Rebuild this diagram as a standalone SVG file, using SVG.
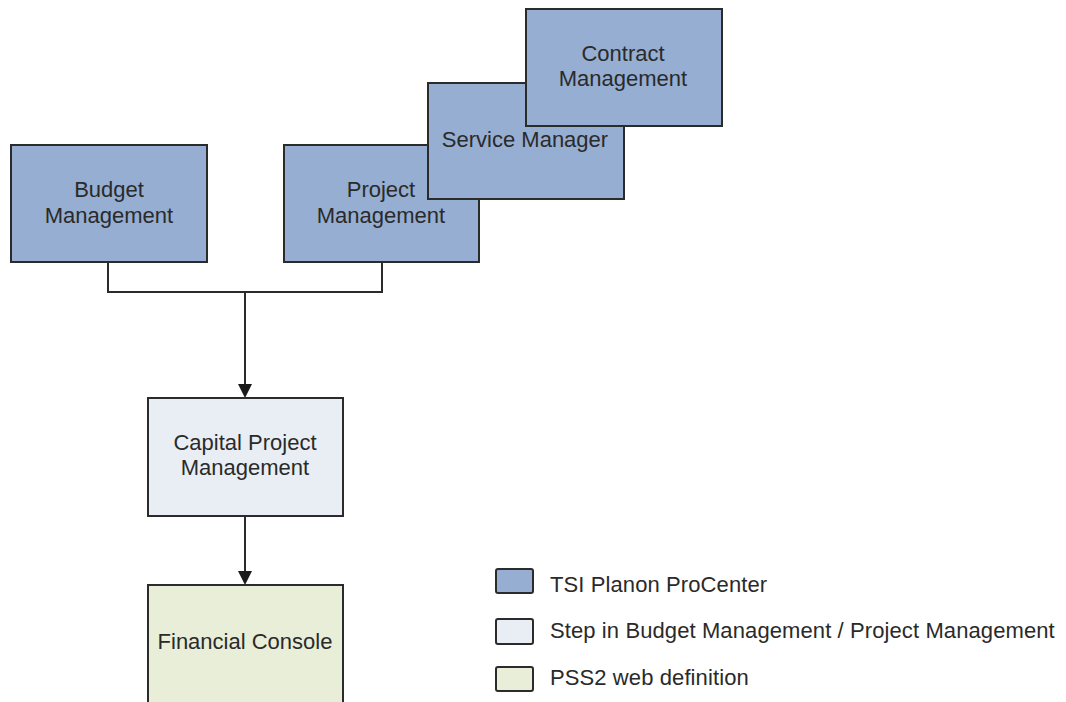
<svg xmlns="http://www.w3.org/2000/svg" width="1066" height="702" viewBox="0 0 1066 702">
  <defs>
    <marker id="arrow" markerWidth="14" markerHeight="14" refX="12" refY="7" orient="auto" markerUnits="userSpaceOnUse">
      <path d="M0,0 L14,7 L0,14 Z" fill="#1a1a1a"/>
    </marker>
  </defs>
  <style>
    .box { stroke: #2b2b2b; stroke-width: 2; }
    .tsi { fill: #95aed2; }
    .step { fill: #e9eef5; }
    .web { fill: #e8eed8; }
    .lbl { font-family: "Liberation Sans", Arial, sans-serif; font-size: 22px; fill: #2a2a2a; text-anchor: middle; }
    .leg { font-family: "Liberation Sans", Arial, sans-serif; font-size: 22px; fill: #2a2a2a; letter-spacing: 0.1px; }
    .conn { fill: none; stroke: #2b2b2b; stroke-width: 2; }
  </style>
  <rect width="1066" height="702" fill="#ffffff"/>

  <g id="connectors">
    <polyline class="conn" points="108,262 108,292 382,292 382,262"/>
    <line class="conn" x1="245" y1="292" x2="245" y2="396" marker-end="url(#arrow)"/>
    <line class="conn" x1="245" y1="516" x2="245" y2="583" marker-end="url(#arrow)"/>
  </g>

  <g id="budget-management">
    <rect class="box tsi" x="11" y="145" width="196" height="117"/>
    <text class="lbl" x="109" y="197">Budget</text>
    <text class="lbl" x="109" y="223">Management</text>
  </g>

  <g id="project-management">
    <rect class="box tsi" x="284" y="145" width="195" height="117"/>
    <text class="lbl" x="381" y="197">Project</text>
    <text class="lbl" x="381" y="223">Management</text>
  </g>

  <g id="service-manager">
    <rect class="box tsi" x="428" y="83" width="196" height="116"/>
    <text class="lbl" x="525" y="147">Service Manager</text>
  </g>

  <g id="contract-management">
    <rect class="box tsi" x="526" y="9" width="196" height="117"/>
    <text class="lbl" x="623" y="61">Contract</text>
    <text class="lbl" x="623" y="86">Management</text>
  </g>

  <g id="capital-project-management">
    <rect class="box step" x="148" y="398" width="195" height="118"/>
    <text class="lbl" x="245" y="450">Capital Project</text>
    <text class="lbl" x="245" y="475">Management</text>
  </g>

  <g id="financial-console">
    <rect class="box web" x="148" y="585" width="195" height="130"/>
    <text class="lbl" x="245" y="649">Financial Console</text>
  </g>

  <g id="legend">
    <rect class="box tsi" x="496" y="569" width="37" height="24" rx="2"/>
    <text class="leg" x="550" y="592">TSI Planon ProCenter</text>
    <rect class="box step" x="496" y="619" width="37" height="25" rx="2"/>
    <text class="leg" x="550" y="638">Step in Budget Management / Project Management</text>
    <rect class="box web" x="496" y="667" width="37" height="24" rx="2"/>
    <text class="leg" x="550" y="685">PSS2 web definition</text>
  </g>
</svg>
